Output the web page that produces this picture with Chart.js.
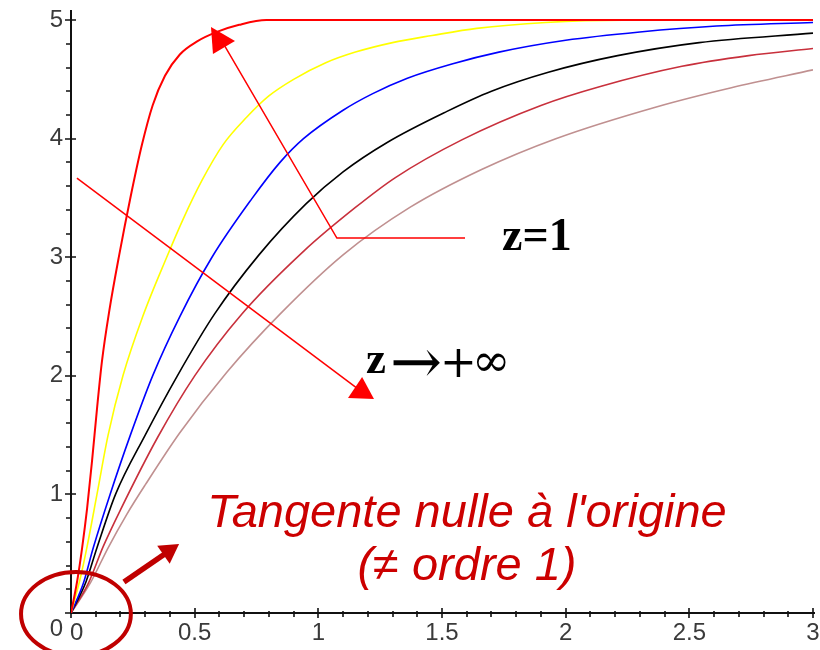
<!DOCTYPE html>
<html>
<head>
<meta charset="utf-8">
<script src="https://cdn.jsdelivr.net/npm/chart.js@4/dist/chart.umd.min.js"></script>
<style>
html, body { margin: 0; padding: 0; background: #fff; }
#wrap { width: 820px; height: 650px; }
</style>
</head>
<body>
<div id="wrap"><canvas id="c" width="820" height="650"></canvas></div>
<script>
// Step responses of a second-order system for increasing damping z (z = 1 first)
const redX    = [0, 0.025, 0.045, 0.065, 0.085, 0.105, 0.125, 0.155, 0.195, 0.24, 0.287, 0.33, 0.38, 0.44, 0.51, 0.59, 0.68, 0.79, 3.0];
const redY    = [0, 0.27, 0.55, 0.88, 1.28, 1.72, 2.12, 2.55, 3.02, 3.5, 3.95, 4.28, 4.53, 4.71, 4.82, 4.9, 4.96, 5.0, 5.0];

const yellowX = [0, 0.036, 0.065, 0.105, 0.15, 0.21, 0.29, 0.387, 0.453, 0.53, 0.615, 0.71, 0.80, 0.90, 1.03, 1.15, 1.30, 1.46, 1.64, 1.92, 2.23, 3.0];
const yellowY = [0, 0.28, 0.56, 1.0, 1.5, 2.0, 2.5, 3.0, 3.32, 3.65, 3.95, 4.18, 4.36, 4.50, 4.64, 4.73, 4.81, 4.87, 4.93, 4.98, 5.0, 5.0];

const blueX   = [0, 0.05, 0.09, 0.158, 0.24, 0.33, 0.44, 0.57, 0.73, 0.845, 0.94, 1.10, 1.22, 1.36, 1.54, 1.73, 2.0, 2.30, 2.61, 3.0];
const blueY   = [0, 0.25, 0.55, 1.0, 1.5, 2.0, 2.5, 3.0, 3.49, 3.80, 4.0, 4.24, 4.38, 4.51, 4.63, 4.73, 4.83, 4.90, 4.95, 4.98];

const blackX  = [0, 0.06, 0.105, 0.18, 0.30, 0.43, 0.58, 0.76, 0.95, 1.10, 1.28, 1.52, 1.70, 1.93, 2.21, 2.54, 3.0];
const blackY  = [0, 0.26, 0.55, 1.0, 1.5, 2.0, 2.52, 3.02, 3.45, 3.72, 3.97, 4.23, 4.40, 4.56, 4.70, 4.81, 4.89];

const darkRedX = [0, 0.07, 0.13, 0.20, 0.35, 0.50, 0.69, 0.94, 1.15, 1.31, 1.58, 1.90, 2.14, 2.47, 2.74, 3.0];
const darkRedY = [0, 0.25, 0.56, 0.87, 1.48, 2.0, 2.52, 3.05, 3.42, 3.67, 3.99, 4.28, 4.44, 4.61, 4.70, 4.76];

const rosyX   = [0, 0.08, 0.15, 0.225, 0.30, 0.44, 0.63, 0.845, 1.10, 1.37, 1.66, 1.96, 2.37, 2.67, 3.0];
const rosyY   = [0, 0.26, 0.55, 0.83, 1.08, 1.52, 2.03, 2.52, 3.02, 3.42, 3.74, 4.0, 4.27, 4.43, 4.58];

// Axis ticks and their labels
const xTicks = [0, 0.5, 1, 1.5, 2, 2.5, 3];
const xTickLabels = ['0', '0.5', '1', '1.5', '2', '2.5', '3'];
const yTicks = [0, 1, 2, 3, 4, 5];
const yTickLabels = ['0', '1', '2', '3', '4', '5'];
const xMinorStep = 0.1;
const yMinorStep = 0.2;

function pts(xs, ys) { return xs.map((x, i) => ({ x: x, y: ys[i] })); }

function curve(xs, ys, color, width) {
  return {
    data: pts(xs, ys),
    borderColor: color,
    borderWidth: width,
    showLine: true,
    pointRadius: 0,
    fill: false,
    cubicInterpolationMode: 'monotone'
  };
}

// Axes: major ticks cross the axis line, minor ticks on the outside
const axesPlugin = {
  id: 'axes',
  beforeDatasetsDraw(chart) {
    const ctx = chart.ctx;
    const xs = chart.scales.x, ys = chart.scales.y;
    const x0 = xs.getPixelForValue(0), y0 = ys.getPixelForValue(0);
    ctx.save();
    ctx.strokeStyle = '#111';
    ctx.lineWidth = 2;
    ctx.beginPath();
    ctx.moveTo(x0, chart.chartArea.top);
    ctx.lineTo(x0, y0);
    ctx.lineTo(xs.getPixelForValue(3) + 2, y0);
    ctx.stroke();

    ctx.lineWidth = 1.6;
    ctx.beginPath();
    for (let v = 0; v <= 5.0001; v += yMinorStep) {
      const py = Math.round(ys.getPixelForValue(v));
      const major = Math.abs(v - Math.round(v)) < 1e-6;
      ctx.moveTo(x0 - (major ? 6 : 5), py);
      ctx.lineTo(x0 + (major ? 5 : 0), py);
    }
    for (let v = 0; v <= 3.0001; v += xMinorStep) {
      const px = Math.round(xs.getPixelForValue(v));
      const major = Math.abs(v * 2 - Math.round(v * 2)) < 1e-6;
      ctx.moveTo(px, y0 - (major ? 5 : 2));
      ctx.lineTo(px, y0 + (major ? 5 : 4));
    }
    ctx.stroke();

    ctx.fillStyle = '#3a3a3a';
    ctx.font = '24px "Liberation Sans", Arial, sans-serif';
    ctx.textAlign = 'right';
    ctx.textBaseline = 'middle';
    yTicks.forEach((v, i) => {
      const py = ys.getPixelForValue(v) + (v === 0 ? 16 : 0);
      ctx.fillText(yTickLabels[i], x0 - 8, py);
    });
    ctx.textBaseline = 'top';
    xTicks.forEach((v, i) => {
      if (v === 0) {
        ctx.textAlign = 'left';
        ctx.fillText(xTickLabels[i], x0 - 1, y0 + 8);
      } else {
        ctx.textAlign = 'center';
        ctx.fillText(xTickLabels[i], xs.getPixelForValue(v), y0 + 8);
      }
    });
    ctx.restore();
  }
};

// draw a glyph run with its left edge at x and its ink box centred on cy
function glyphAt(ctx, text, font, x, cy) {
  ctx.font = font;
  ctx.textAlign = 'left';
  ctx.textBaseline = 'alphabetic';
  const m = ctx.measureText(text);
  const off = (m.actualBoundingBoxAscent - m.actualBoundingBoxDescent) / 2;
  ctx.fillText(text, x - m.actualBoundingBoxLeft, cy + off);
  return m.actualBoundingBoxRight + m.actualBoundingBoxLeft;
}

// Arrows and captions, placed in data units
const notesPlugin = {
  id: 'notes',
  afterDatasetsDraw(chart) {
    const ctx = chart.ctx;
    const xs = chart.scales.x, ys = chart.scales.y;
    const P = (x, y) => [xs.getPixelForValue(x), ys.getPixelForValue(y)];
    const poly = (arr, color) => {
      ctx.fillStyle = color;
      ctx.beginPath();
      arr.forEach((p, i) => { const q = P(p[0], p[1]); i ? ctx.lineTo(q[0], q[1]) : ctx.moveTo(q[0], q[1]); });
      ctx.closePath();
      ctx.fill();
    };
    ctx.save();

    // arrow towards z = 1
    ctx.strokeStyle = '#ff0000';
    ctx.lineWidth = 1.5;
    ctx.beginPath();
    let a = P(1.593, 3.162), b = P(1.075, 3.162), c = P(0.619, 4.790);
    ctx.moveTo(a[0], a[1]); ctx.lineTo(b[0], b[1]); ctx.lineTo(c[0], c[1]);
    ctx.stroke();
    poly([[0.566, 4.942], [0.574, 4.714], [0.663, 4.824]], '#ff0000');

    // arrow towards z -> +inf
    ctx.beginPath();
    a = P(0.024, 3.668); b = P(1.156, 1.897);
    ctx.moveTo(a[0], a[1]); ctx.lineTo(b[0], b[1]);
    ctx.stroke();
    poly([[1.120, 1.813], [1.225, 1.805], [1.177, 1.990]], '#ff0000');

    // captions
    ctx.fillStyle = '#000';
    ctx.textAlign = 'left';
    ctx.textBaseline = 'alphabetic';
    ctx.font = 'bold 46px "Liberation Serif", "Times New Roman", serif';
    let t = P(1.743, 3.061);
    ctx.fillText('z=1', t[0], t[1]);

    t = P(1.193, 2.024);
    ctx.font = 'bold 45px "Liberation Serif", "Times New Roman", serif';
    ctx.fillText('z', t[0], t[1]);
    const zm = ctx.measureText('z');
    const cy = t[1] - zm.actualBoundingBoxAscent / 2;
    let x = t[0] + zm.width + 1;
    x += glyphAt(ctx, '\u2192', '62px "DejaVu Serif", serif', x, cy) + 2;
    x += glyphAt(ctx, '+', '44px "DejaVu Serif", serif', x, cy) + 3;
    glyphAt(ctx, '\u221E', '46px "DejaVu Serif", serif', x, cy);

    // origin highlight
    ctx.strokeStyle = '#c00000';
    ctx.lineWidth = 4;
    const e = P(0.020, -0.008);
    const rx = xs.getPixelForValue(0.222) - xs.getPixelForValue(0);
    const ry = ys.getPixelForValue(0) - ys.getPixelForValue(0.354);
    ctx.beginPath();
    ctx.ellipse(e[0], e[1], rx, ry, 0, 0, Math.PI * 2);
    ctx.stroke();

    // thick arrow from the highlight to the caption
    const s = P(0.214, 0.261), tip = P(0.437, 0.582);
    const dx = tip[0] - s[0], dy = tip[1] - s[1];
    const L = Math.hypot(dx, dy), ux = dx / L, uy = dy / L;
    const hl = 19, hw = 11;
    const bx = tip[0] - ux * hl, by = tip[1] - uy * hl;
    ctx.lineWidth = 5.5;
    ctx.beginPath();
    ctx.moveTo(s[0], s[1]);
    ctx.lineTo(bx + ux * 2, by + uy * 2);
    ctx.stroke();
    ctx.fillStyle = '#c00000';
    ctx.beginPath();
    ctx.moveTo(tip[0], tip[1]);
    ctx.lineTo(bx - uy * hw, by + ux * hw);
    ctx.lineTo(bx + uy * hw, by - ux * hw);
    ctx.closePath();
    ctx.fill();

    // red italic caption
    ctx.fillStyle = '#cc0000';
    ctx.textAlign = 'center';
    ctx.textBaseline = 'alphabetic';
    ctx.font = 'italic 47px "Liberation Sans", Arial, sans-serif';
    t = P(1.601, 0.725);
    ctx.fillText("Tangente nulle \u00E0 l'origine", t[0], t[1]);
    t = P(1.601, 0.278);
    ctx.fillText('(\u2260 ordre 1)', t[0], t[1]);

    ctx.restore();
  }
};

new Chart(document.getElementById('c'), {
  type: 'scatter',
  data: {
    datasets: [
      curve(redX, redY, '#ff0000', 2),
      curve(yellowX, yellowY, '#ffff00', 1.6),
      curve(blueX, blueY, '#0000ff', 1.6),
      curve(blackX, blackY, '#000000', 1.6),
      curve(darkRedX, darkRedY, '#c8303c', 1.6),
      curve(rosyX, rosyY, '#c09090', 1.6)
    ]
  },
  options: {
    responsive: false,
    devicePixelRatio: 1,
    animation: false,
    layout: { padding: { left: 71, right: 7, top: 10, bottom: 37 } },
    plugins: { legend: { display: false }, tooltip: { enabled: false } },
    scales: {
      x: { type: 'linear', min: 0, max: 3, display: false },
      y: { type: 'linear', min: 0, max: 5.085, display: false }
    }
  },
  plugins: [axesPlugin, notesPlugin]
});
</script>
</body>
</html>
